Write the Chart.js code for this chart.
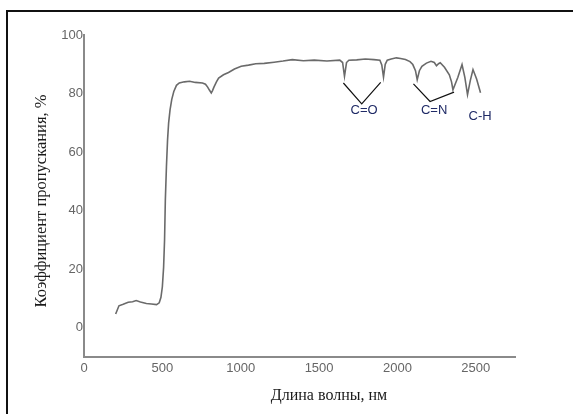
<!DOCTYPE html>
<html>
<head>
<meta charset="utf-8">
<script src="https://cdn.jsdelivr.net/npm/chart.js@4/dist/chart.umd.min.js"></script>
<style>
  html, body { margin: 0; padding: 0; background: #fff; }
  #wrap { position: relative; width: 573px; height: 414px; overflow: hidden; }
  #frame { position: absolute; left: 6px; top: 10px; width: 600px; height: 420px;
           border-top: 2px solid #111; border-left: 2px solid #111; }
  canvas { position: absolute; left: 0; top: 0; }
</style>
</head>
<body>
<div id="wrap">
  <div id="frame"></div>
  <canvas id="chart" width="573" height="414"></canvas>
</div>
<script>
// Transmission spectrum
const wavelength = [202, 223, 250, 282, 310, 333, 360, 398, 430, 463, 480, 491, 500, 508, 514, 519, 526, 533, 540, 549, 560, 573, 590, 608,
  640, 674, 710, 756, 775, 789, 800, 812, 820, 829, 845, 859, 890, 922, 960, 1003, 1050, 1096, 1150, 1213, 1270, 1329, 1400, 1469, 1550,
  1632, 1650, 1662, 1675, 1690, 1740, 1795, 1850, 1888, 1900, 1911, 1922, 1935, 1960, 1993, 2020, 2051, 2080, 2098, 2115, 2126, 2140, 2156,
  2185, 2214, 2235, 2249, 2262, 2273, 2300, 2331, 2345, 2354, 2385, 2412, 2430, 2447, 2465, 2482, 2505, 2530];
const transmission = [4.7, 7.5, 8.0, 8.7, 8.9, 9.3, 8.8, 8.3, 8.1, 7.9, 8.5, 10.4, 14, 20.7, 30, 43.6, 55, 64, 70, 74.4, 78, 80.7, 82.8, 83.6,
  84.0, 84.2, 83.8, 83.6, 83.2, 82.2, 81.2, 80.2, 81.0, 82.2, 84.0, 85.3, 86.4, 87.2, 88.4, 89.3, 89.7, 90.2, 90.3, 90.7, 91.1, 91.6, 91.2, 91.4, 91.1,
  91.4, 90.6, 85.9, 90.6, 91.4, 91.5, 91.8, 91.6, 91.4, 89.8, 85.6, 90.0, 91.4, 91.8, 92.2, 92.0, 91.6, 90.9, 89.9, 87.8, 84.7, 87.8, 89.3,
  90.4, 91.0, 90.6, 89.5, 90.2, 90.5, 89.0, 86.4, 84.0, 81.3, 85.5, 89.9, 85.5, 79.6, 84.5, 88.2, 85.0, 80.3];

const xTicks = [0, 500, 1000, 1500, 2000, 2500];
const yTicks = [0, 20, 40, 60, 80, 100];

// bond annotations: leader lines and labels, in data units
const coLines = [[1655, 83.6], [1772, 76.5], [1893, 83.8]];
const cnLines = [[2102, 83.3], [2208, 77.3], [2361, 80.5]];
const bondLabels = ['C=O', 'C=N', 'C-H'];
const bondLabelX = [1787, 2234, 2527];
const bondLabelY = [74.4, 74.2, 72.1];

const toPts = arr => arr.map(p => ({ x: p[0], y: p[1] }));

const labelsPlugin = {
  id: 'labels',
  afterDraw(chart) {
    const { ctx, chartArea, scales } = chart;
    ctx.save();
    ctx.fillStyle = '#1f2a66';
    ctx.font = '13px "Liberation Sans", Arial, sans-serif';
    ctx.textAlign = 'center';
    ctx.textBaseline = 'middle';
    bondLabels.forEach((t, i) => {
      ctx.fillText(t, scales.x.getPixelForValue(bondLabelX[i]), scales.y.getPixelForValue(bondLabelY[i]));
    });
    // axis titles
    ctx.fillStyle = '#1a1a1a';
    ctx.font = '16px "Liberation Serif", "Times New Roman", serif';
    ctx.fillText('Длина волны, нм', chartArea.left + 245, chartArea.bottom + 39);
    ctx.font = '16.5px "Liberation Serif", "Times New Roman", serif';
    ctx.translate(42, chartArea.top + 166);
    ctx.rotate(-Math.PI / 2);
    ctx.fillText('Коэффициент пропускания, %', 0, 0);
    ctx.restore();
  }
};

new Chart(document.getElementById('chart'), {
  type: 'line',
  data: {
    datasets: [
      {
        data: wavelength.map((w, i) => ({ x: w, y: transmission[i] })),
        borderColor: '#6a6a6a', borderWidth: 1.6, pointRadius: 0, tension: 0
      },
      { data: toPts(coLines), borderColor: '#111', borderWidth: 1.2, pointRadius: 0, tension: 0 },
      { data: toPts(cnLines), borderColor: '#111', borderWidth: 1.2, pointRadius: 0, tension: 0 }
    ]
  },
  options: {
    responsive: false,
    animation: false,
    layout: { padding: { top: 35, right: 58, left: 0, bottom: 0 } },
    plugins: { legend: { display: false }, tooltip: { enabled: false } },
    scales: {
      x: {
        type: 'linear', min: 0, max: 2750,
        grid: { display: false, drawTicks: false },
        border: { display: true, color: '#8a8a8a', width: 2 },
        afterBuildTicks: s => { s.ticks = xTicks.map(v => ({ value: v })); },
        afterFit: s => { s.height = 57; },
        ticks: { color: '#666', padding: 4, maxRotation: 0, callback: v => String(v),
                 font: { size: 13, family: '"Liberation Sans", Arial, sans-serif' } }
      },
      y: {
        min: -10, max: 100,
        grid: { display: false, drawTicks: false },
        border: { display: true, color: '#8a8a8a', width: 2 },
        afterBuildTicks: s => { s.ticks = yTicks.map(v => ({ value: v })); },
        afterFit: s => { s.width = 84; },
        ticks: { color: '#666', padding: 1, callback: v => String(v),
                 font: { size: 13, family: '"Liberation Sans", Arial, sans-serif' } }
      }
    }
  },
  plugins: [labelsPlugin]
});
</script>
</body>
</html>
